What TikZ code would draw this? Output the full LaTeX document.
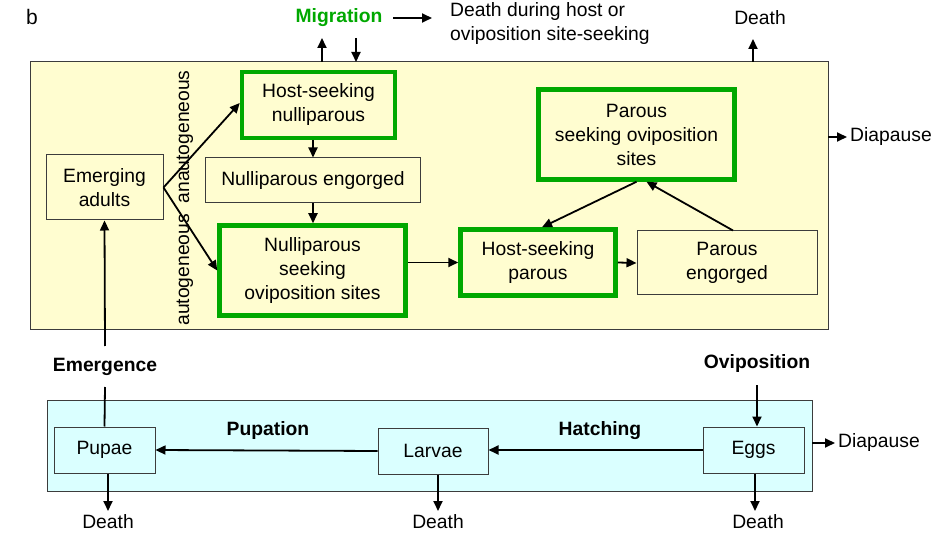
\documentclass[tikz,border=0pt]{standalone}
\usepackage{fontspec}
\setmainfont{Liberation Sans}
\usetikzlibrary{arrows.meta}
\definecolor{boxyellow}{RGB}{255,253,208}
\definecolor{boxcyan}{RGB}{218,255,255}
\definecolor{stagegreen}{RGB}{0,168,0}
\definecolor{edgegray}{RGB}{60,60,60}
\begin{document}
\begin{tikzpicture}[x=1pt,y=-1pt,
  every node/.style={font=\fontsize{19.3}{24}\selectfont, inner sep=0pt},
  plainbox/.style={draw=edgegray, line width=1pt, align=center},
  greenbox/.style={draw=stagegreen, line width=4.5pt, align=center},
  flow/.style={line width=1.8pt, -{Triangle[length=10pt,width=9pt]}},
  bare/.style={line width=1.8pt},
  lbl/.style={font=\fontsize{19.3}{24}\selectfont\bfseries}
]
\useasboundingbox (0,0) rectangle (948,537);
% compartments
\draw[edgegray, line width=1pt, fill=boxyellow] (30,62) rectangle (828,330);
\draw[edgegray, line width=1pt, fill=boxcyan] (47,400) rectangle (812,491);

\node[font=\fontsize{21}{24}\selectfont] at (32,17) {b};

% adult stages
\node[plainbox, minimum width=117pt, minimum height=65pt] (emerg) at (104.5,187.5) {Emerging\\adults};
\node[greenbox, minimum width=153pt, minimum height=66pt] (hsn) at (318.5,105) {Host-seeking\\nulliparous};
\node[plainbox, minimum width=215pt, minimum height=45pt] (ne) at (313,180.5) {Nulliparous engorged};
\node[greenbox, minimum width=186pt, minimum height=90pt] (nso) at (312.5,270.5) {Nulliparous\\seeking\\oviposition sites};
\node[greenbox, minimum width=155pt, minimum height=66pt] (hsp) at (538,262.5) {Host-seeking\\parous};
\node[plainbox, minimum width=180pt, minimum height=64pt] (pe) at (727,263) {Parous\\engorged};
\node[greenbox, minimum width=196pt, minimum height=90pt] (pso) at (636.5,134.5) {Parous\\seeking oviposition\\sites};

\node[rotate=90] (gen) at (185,198) {autogeneous\ \ anautogeneous};

% aquatic stages
\node[plainbox, minimum width=101pt, minimum height=46pt] (pupae) at (104.5,450) {Pupae};
\node[plainbox, minimum width=110pt, minimum height=46pt] (larvae) at (433,451) {Larvae};
\node[plainbox, minimum width=101pt, minimum height=46pt] (eggs) at (753.5,450) {Eggs};

% labels
\node[lbl, text=stagegreen] (migr) at (339,18) {Migration};
\node[align=left, anchor=west] (dmig) at (450,24) {Death during host or\\oviposition site-seeking};
\node (dtop) at (760,18) {Death};
\node[anchor=west] (dia1) at (850,137) {Diapause};
\node[anchor=west] (dia2) at (838,443) {Diapause};
\node[lbl] (emlbl) at (105,367) {Emergence};
\node[lbl] (ovlbl) at (757,364) {Oviposition};
\node[lbl] (puplbl) at (268,431) {Pupation};
\node[lbl] (hatlbl) at (600,431) {Hatching};
\node (dpup) at (108,522) {Death};
\node (dlar) at (438,522) {Death};
\node (degg) at (758,522) {Death};

% helper coordinates
\coordinate (mup0) at (322,62);
\coordinate (mup1) at (322,38);
\coordinate (mdn0) at (356,38);
\coordinate (mdn1) at (356,62);
\coordinate (mig0) at (393,18);
\coordinate (mig1) at (432,18);
\coordinate (dt0) at (753,62);
\coordinate (dt1) at (753,39);
\coordinate (dy0) at (828,137);
\coordinate (dy1) at (847,137);
\coordinate (de0) at (812,443);
\coordinate (de1) at (835,443);
\coordinate (em0) at (105,387);
\coordinate (em1) at (105,346);
\coordinate (ov0) at (757,385);
\coordinate (dp1) at (108,511);
\coordinate (dl1) at (438,511);
\coordinate (dg1) at (755,511);

% connectors
\draw[flow] (mup0) -- (mup1);
\draw[flow] (mdn0) -- (mdn1);
\draw[flow] (mig0) -- (mig1);
\draw[flow] (dt0) -- (dt1);
\draw[flow] (dy0) -- (dy1);
\draw[flow] (de0) -- (de1);

\draw[flow] (emerg.east) -- ([yshift=2pt]hsn.west);
\draw[flow] (emerg.east) -- (nso.west);
\draw[flow] (hsn.south -| ne.north) -- (ne.north);
\draw[flow] (ne.south) -- (ne.south |- nso.north);
\draw[flow] (nso.east |- hsp.west) -- (hsp.west);
\draw[flow] (hsp.east) -- (pe.west);
\draw[flow] (pso.south) -- ([xshift=4pt]hsp.north);
\draw[flow] ([xshift=6pt]pe.north) -- ([xshift=10pt]pso.south);

\draw[bare] (pupae.north) -- (em0);
\draw[flow] (em1) -- (emerg.south);
\draw[flow] (ov0) -- (ov0 |- eggs.north);
\draw[flow] (larvae.west) -- (pupae.east);
\draw[flow] (eggs.west) -- (eggs.west -| larvae.east);
\draw[flow] (pupae.south -| dp1) -- (dp1);
\draw[flow] (larvae.south -| dl1) -- (dl1);
\draw[flow] (eggs.south -| dg1) -- (dg1);
\end{tikzpicture}
\end{document}
